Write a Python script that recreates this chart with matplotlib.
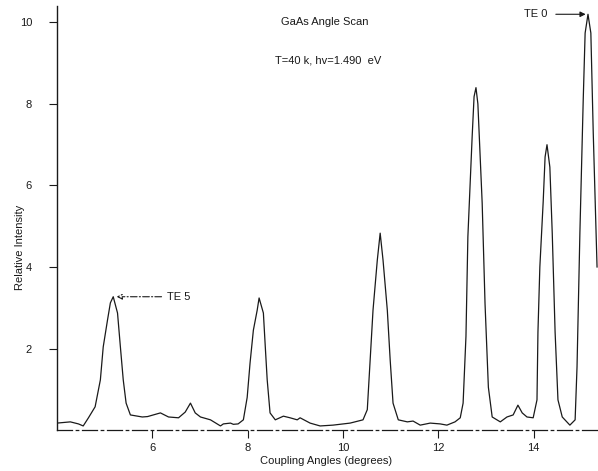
import matplotlib
matplotlib.use("Agg")
import matplotlib.pyplot as plt

plt.rcParams['font.family'] = ['Liberation Sans', 'DejaVu Sans']

# scan values (angle in degrees, relative intensity)
angle = [4.00, 4.28, 4.45, 4.55, 4.66, 4.80, 4.91, 4.97, 5.06, 5.12, 5.18, 5.27,
         5.33, 5.39, 5.45, 5.54, 5.79, 5.90, 6.02, 6.17, 6.34, 6.55, 6.69, 6.80,
         6.90, 7.01, 7.22, 7.43, 7.49, 7.64, 7.70, 7.80, 7.91, 7.99, 8.05, 8.12,
         8.20, 8.24, 8.33, 8.37, 8.41, 8.47, 8.58, 8.75, 8.89, 9.04, 9.10, 9.31,
         9.52, 9.79, 10.15, 10.42, 10.51, 10.57, 10.63, 10.72, 10.78, 10.84, 10.93,
         10.99, 11.05, 11.16, 11.35, 11.47, 11.62, 11.83, 12.04, 12.18, 12.35, 12.46,
         12.52, 12.58, 12.62, 12.71, 12.75, 12.79, 12.83, 12.92, 12.98, 13.05, 13.13,
         13.30, 13.44, 13.57, 13.67, 13.76, 13.86, 13.99, 14.07, 14.09, 14.13, 14.20,
         14.24, 14.28, 14.34, 14.39, 14.45, 14.51, 14.60, 14.76, 14.87, 14.91, 14.97,
         15.04, 15.08, 15.14, 15.20, 15.25, 15.33]
intensity = [0.17, 0.20, 0.15, 0.10, 0.30, 0.57, 1.23, 2.04, 2.70, 3.12, 3.27, 2.87,
             2.04, 1.23, 0.66, 0.37, 0.32, 0.33, 0.37, 0.42, 0.32, 0.30, 0.44, 0.66,
             0.42, 0.32, 0.25, 0.10, 0.15, 0.17, 0.14, 0.15, 0.25, 0.80, 1.64, 2.45,
             2.94, 3.24, 2.87, 2.04, 1.23, 0.42, 0.25, 0.34, 0.30, 0.25, 0.30, 0.17,
             0.10, 0.12, 0.17, 0.25, 0.50, 1.72, 2.94, 4.17, 4.83, 4.17, 2.94,
             1.72, 0.66, 0.25, 0.20, 0.22, 0.12, 0.17, 0.15, 0.12, 0.20, 0.30,
             0.66, 2.30, 4.74, 7.20, 8.18, 8.40, 8.00, 5.57, 3.10, 1.05, 0.32,
             0.20, 0.32, 0.37, 0.61, 0.42, 0.32, 0.30, 0.74, 2.40, 4.00, 5.60,
             6.70, 7.00, 6.45, 4.83, 2.40, 0.74, 0.32, 0.12, 0.25, 1.55, 4.83,
             8.10, 9.74, 10.20, 9.74, 7.30, 4.00]

x_ticks = [6, 8, 10, 12, 14]
y_ticks = [2, 4, 6, 8, 10]

ink = '#1a1a1a'

fig = plt.figure(figsize=(5.98, 4.71), dpi=100)
ax = fig.add_axes([0.0953, 0.087, 0.9047, 0.900])

ax.plot(angle, intensity, color=ink, linewidth=0.9)

ax.set_xlim(4.0, 15.35)
ax.set_ylim(0, 10.4)
ax.set_xticks(x_ticks)
ax.set_yticks(y_ticks)
ax.tick_params(axis='both', direction='out', length=6, width=0.8,
               colors=ink, labelsize=8)
ax.tick_params(axis='x', pad=3)
ax.tick_params(axis='y', pad=12)

for side in ['top', 'right']:
    ax.spines[side].set_visible(False)
ax.spines['left'].set_color(ink)
ax.spines['left'].set_linewidth(1.0)
ax.spines['bottom'].set_color(ink)
ax.spines['bottom'].set_linewidth(0.9)
ax.spines['bottom'].set_linestyle((0, (12, 3, 2, 3)))

ax.set_xlabel('Coupling Angles (degrees)', fontsize=8, color=ink)
ax.set_ylabel('Relative Intensity', fontsize=8, color=ink)
ax.xaxis.set_label_coords(0.497, -0.062)
ax.yaxis.set_label_coords(-0.06, 0.43)

fig.text(0.543, 0.953, 'GaAs Angle Scan', fontsize=8, color=ink,
         ha='center', va='center')
fig.text(0.548, 0.872, 'T=40 k, hv=1.490  eV', fontsize=8, color=ink,
         ha='center', va='center')

ax.annotate('TE 5', xy=(5.22, 3.27), xytext=(6.31, 3.27),
            fontsize=8, color=ink, va='center', ha='left',
            arrowprops=dict(arrowstyle='-|>', color=ink, lw=0.8,
                            linestyle=(0, (6, 2, 1, 2)), shrinkA=2, shrinkB=1,
                            mutation_scale=8, fc='white'))
ax.annotate('TE 0', xy=(15.12, 10.2), xytext=(13.80, 10.2),
            fontsize=8, color=ink, va='center', ha='left',
            arrowprops=dict(arrowstyle='-|>', color=ink, lw=0.8,
                            shrinkA=4, shrinkB=1, mutation_scale=8))

fig.savefig('out.png', dpi=100)
